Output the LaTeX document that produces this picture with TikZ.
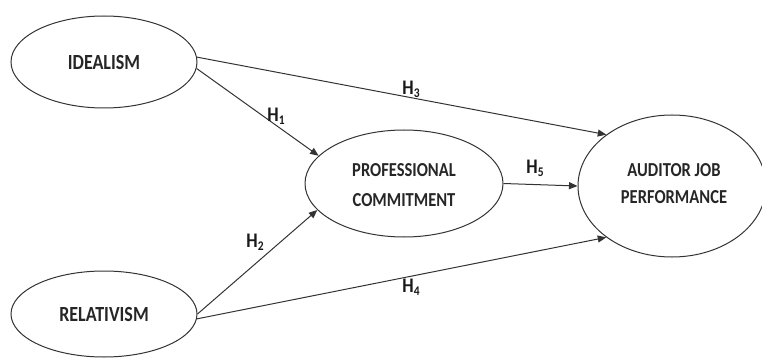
\documentclass[tikz,border=0pt]{standalone}
\usepackage{fontspec}
\setmainfont{Carlito}
\usetikzlibrary{arrows.meta,shapes.geometric}
\newcommand{\hyp}[1]{\scalebox{1}[1.15]{H\raisebox{-0.3ex}{\fontsize{11.5}{11.5}\selectfont #1}}}
\newcommand{\tall}[1]{\scalebox{1}[1.2]{#1}}
\begin{document}
\begin{tikzpicture}[x=1pt,y=-1pt,
  var/.style={draw=black!80,line width=1pt,ellipse,inner sep=0pt,font=\bfseries,text=black!85,align=center},
  link/.style={draw=black!80,line width=1pt,-{Triangle[length=8.5pt,width=7pt]}},
  hlab/.style={font=\fontsize{18}{18}\selectfont\bfseries,text=black!90,inner sep=0pt}]
\useasboundingbox (0,0) rectangle (762,358);
\node[var,minimum width=186pt,minimum height=92pt,font=\fontsize{18}{18}\selectfont\bfseries] (id) at (104,62) {\tall{IDEALISM}};
\node[var,minimum width=186pt,minimum height=86pt,font=\fontsize{18}{18}\selectfont\bfseries] (rel) at (104,314) {\tall{RELATIVISM}};
\node[var,minimum width=198pt,minimum height=107pt,font=\fontsize{16.5}{30}\selectfont\bfseries] (pc) at (404,183.5) {};
\node[font=\fontsize{16.5}{30}\selectfont\bfseries,text=black!85,align=center] (pct) at (404,185) {\tall{PROFESSIONAL}\\\tall{COMMITMENT}};
\node[var,minimum width=188pt,minimum height=142pt] (ajp) at (672,186) {};
\node[font=\fontsize{16.5}{27}\selectfont\bfseries,text=black!85,align=center] (ajpt) at (674,184) {\tall{AUDITOR JOB}\\\tall{PERFORMANCE}};
\draw[link] (id.-4) -- (pc.162.6);
\draw[link] (id.3) -- (ajp.142.6);
\draw[link] (pc.east) -- (ajp.west);
\draw[link] (rel.east) -- (pc.197.5);
\draw[link] (rel.-3) -- (ajp.218.6);
\node[hlab] (h1) at (276,116) {\hyp{1}};
\node[hlab] (h3) at (411,89) {\hyp{3}};
\node[hlab] (h5) at (535,168) {\hyp{5}};
\node[hlab] (h2) at (255,242) {\hyp{2}};
\node[hlab] (h4) at (411,287) {\hyp{4}};
\end{tikzpicture}
\end{document}
